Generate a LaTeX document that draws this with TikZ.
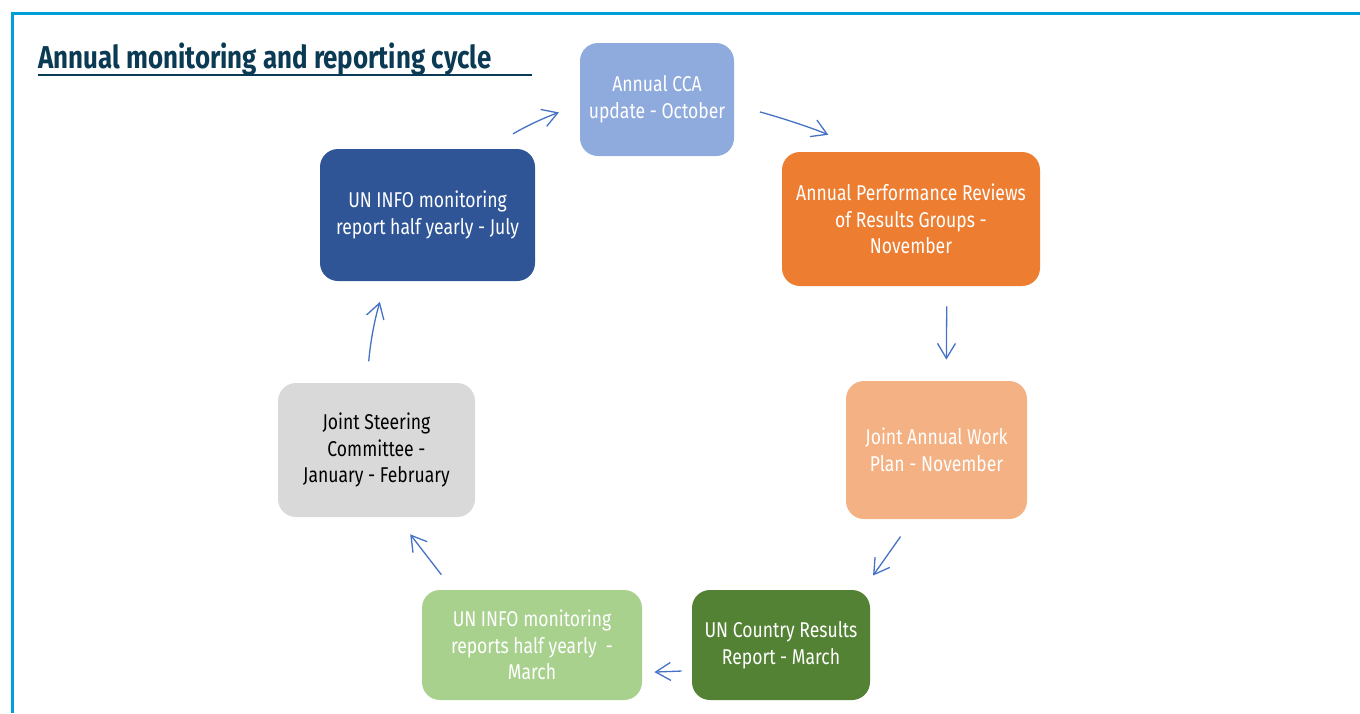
\documentclass[tikz,border=0pt]{standalone}
\usepackage{fontspec}
\setmainfont{Fira Sans}[FakeStretch=0.82]
\usetikzlibrary{arrows.meta}

\definecolor{framecyan}{HTML}{009FDA}
\definecolor{titleteal}{HTML}{0B3A55}
\definecolor{arrowblue}{HTML}{4472C4}
\definecolor{ccablue}{HTML}{8FAADC}
\definecolor{aprorange}{HTML}{ED7D31}
\definecolor{planpeach}{HTML}{F4B183}
\definecolor{crrgreen}{HTML}{548235}
\definecolor{infogreen}{HTML}{A9D18E}
\definecolor{jscgrey}{HTML}{D9D9D9}
\definecolor{infonavy}{HTML}{2F5597}

\begin{document}
\begin{tikzpicture}[x=0.5pt,y=-0.5pt,->,>={Straight Barb[length=7.5pt,width=9pt]},
      cycle box/.style={rectangle,rounded corners=9pt,text=white,align=center,
        inner sep=2pt,font=\fontsize{10.7}{13.3}\selectfont},
      cycle arrow/.style={draw=arrowblue,line width=0.65pt}]
    \useasboundingbox (0,0) rectangle (1360,713);
    % frame and title
    \draw[-,framecyan,line width=1.5pt] (12,713) |- (1360,13);
    \node[anchor=base west,inner sep=0pt,text=titleteal,
      font=\fontsize{15.8}{18}\selectfont\bfseries] (title) at (38,68)
      {Annual monitoring and reporting cycle};
    \draw[-,titleteal,line width=0.7pt] (38,75) -- (532,75);
    % the cycle
    \node[cycle box,fill=ccablue,minimum width=77pt,minimum height=56.5pt] (cca)
      at (657,99.5) {Annual CCA\\update - October};
    \node[cycle box,fill=aprorange,minimum width=129pt,minimum height=67pt] (apr)
      at (911,219) {Annual Performance Reviews\\of Results Groups -\\November};
    \node[cycle box,fill=planpeach,minimum width=90.5pt,minimum height=69pt] (jawp)
      at (936.5,450) {Joint Annual Work\\Plan - November};
    \node[cycle box,fill=crrgreen,minimum width=89pt,minimum height=55pt] (crr)
      at (781,645) {UN Country Results\\Report - March};
    \node[cycle box,fill=infogreen,minimum width=110pt,minimum height=55pt] (infomar)
      at (532,645) {UN INFO monitoring\\reports half yearly\ \ -\\March};
    \node[cycle box,fill=jscgrey,text=black,minimum width=98.5pt,minimum height=67pt] (jsc)
      at (376.5,450) {Joint Steering\\Committee -\\January - February};
    \node[cycle box,fill=infonavy,minimum width=107.5pt,minimum height=66pt] (infojul)
      at (427.5,215) {UN INFO monitoring\\report half yearly - July};
    % arrows round the cycle
    \draw[cycle arrow,shorten <=13.9pt,shorten >=11pt] (infojul.47) to[bend left=6] (cca.184);
    \draw[cycle arrow,shorten <=13.2pt,shorten >=21.2pt] (cca.-4) to[bend left=4] (apr.123);
    \draw[cycle arrow,shorten <=10pt,shorten >=10.5pt] (apr.-62) -- (jawp.82);
    \draw[cycle arrow,shorten <=10.5pt,shorten >=8.6pt] (jawp.251.5) -- (crr.34);
    \draw[cycle arrow,shorten <=5pt,shorten >=6pt] (crr.196.9) -- (infomar.-14.3);
    \draw[cycle arrow,shorten <=9.4pt,shorten >=10.7pt] (infomar.145.4) -- (jsc.-73);
    \draw[cycle arrow,shorten <=10.7pt,shorten >=10.7pt] (jsc.98) to[bend left=6] (infojul.238.6);
\end{tikzpicture}
\end{document}
